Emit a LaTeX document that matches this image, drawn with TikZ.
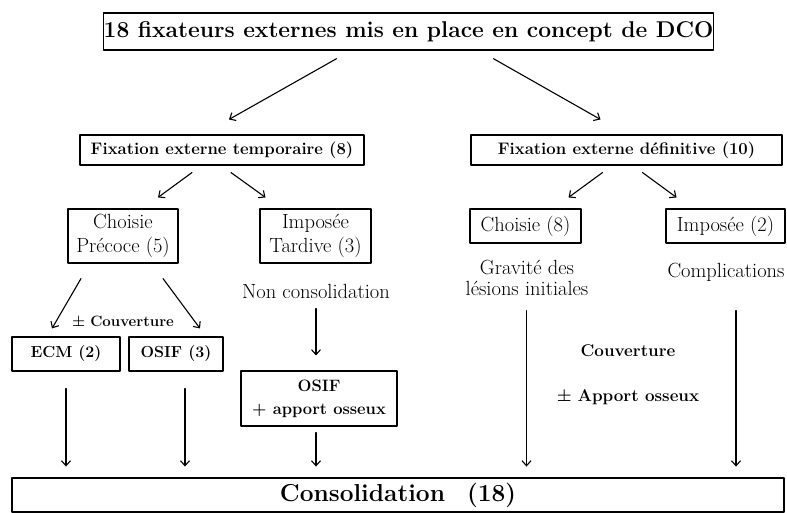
\documentclass[tikz,border=0pt]{standalone}
\usepackage{tikz}
\usetikzlibrary{arrows.meta,calc,positioning}
\tikzset{
  every picture/.append style={line cap=round,line join=round},
  dco box/.style={draw,line width=1.1pt,inner sep=0pt,align=center},
  dco text/.style={inner sep=0pt,align=center},
  dco arrow/.style={line width=1.1pt,-{Straight Barb[length=5pt,width=9pt]}},
  dco big/.style={font=\fontsize{22.8}{26}\selectfont\bfseries},
  dco head/.style={font=\fontsize{16.7}{19}\selectfont\bfseries},
  dco plain/.style={font=\fontsize{20.5}{24}\selectfont},
  dco bold/.style={font=\fontsize{17}{23}\selectfont\bfseries},
  dco small/.style={font=\fontsize{15}{18}\selectfont\bfseries}
}
\begin{document}
\begin{tikzpicture}[x=1pt,y=-1pt]
  \useasboundingbox (0,0) rectangle (787,513);
  % top level
  \node[dco box,dco big,line width=1.4pt,minimum width=609pt,minimum height=37pt] (title) at (408.5,31.5) {18 fixateurs externes mis en place en concept de DCO};
  \node[dco box,dco head,minimum width=284pt,minimum height=30pt] (temp) at (222,150) {Fixation externe temporaire (8)};
  \node[dco box,dco head,minimum width=311pt,minimum height=30pt] (defin) at (626.5,150) {Fixation externe définitive (10)};
  % second level
  \node[dco box,dco plain,minimum width=110pt,minimum height=54pt] (choisieP) at (123,236) {Choisie\\Précoce (5)};
  \node[dco box,dco plain,minimum width=111pt,minimum height=54pt] (imposT) at (315.5,236) {Imposée\\Tardive (3)};
  \node[dco text,dco plain] (nonc) at (316,291) {Non consolidation};
  \node[dco box,dco plain,minimum width=111pt,minimum height=34pt] (choisie8) at (525.5,226) {Choisie (8)};
  \node[dco box,dco plain,minimum width=119pt,minimum height=34pt] (impose2) at (725.5,226) {Imposée (2)};
  \node[dco text,font=\fontsize{20.5}{21.5}\selectfont] (gravite) at (527,278) {Gravité des\\lésions initiales};
  \node[dco text,dco plain] (complic) at (726,272) {Complications};
  % third level
  \node[dco text,dco small] (couvA) at (123,321) {±\hspace{5pt}Couverture};
  \node[dco box,font=\fontsize{16}{18}\selectfont\bfseries,minimum width=108pt,minimum height=34pt] (ecm) at (66,354) {ECM (2)};
  \node[dco box,font=\fontsize{16}{18}\selectfont\bfseries,minimum width=94pt,minimum height=34pt] (osif3) at (176,354) {OSIF (3)};
  \node[dco box,font=\fontsize{16.5}{23}\selectfont\bfseries,minimum width=156pt,minimum height=55pt] (osifA) at (319,398.5) {OSIF\\+ apport osseux};
  \node[dco text,dco bold] (couvB) at (628,351) {Couverture};
  \node[dco text,dco bold] (apport) at (628,397) {±\hspace{6pt}Apport osseux};
  \node[dco box,font=\fontsize{24.5}{28}\selectfont\bfseries,minimum width=772pt,minimum height=34pt] (conso) at (398,495) {Consolidation\hspace{22pt}(18)};
  % arrows
  \draw[dco arrow] ($(title.south)+(-72,8)$) -- ($(temp.north)+(7,-15)$);
  \draw[dco arrow] ($(title.south)+(85,8)$) -- ($(defin.north)+(-26,-15)$);
  \draw[dco arrow] ($(temp.south)+(-30,7)$) -- ($(choisieP.north)+(35,-11)$);
  \draw[dco arrow] ($(temp.south)+(9,7)$) -- ($(imposT.north)+(-50,-11)$);
  \draw[dco arrow] ($(defin.south)+(-24,7)$) -- ($(choisie8.north)+(43,-11)$);
  \draw[dco arrow] ($(defin.south)+(16,7)$) -- ($(impose2.north)+(-49,-11)$);
  \draw[dco arrow] ($(choisieP.south)+(-42,15)$) -- ($(ecm.north)+(-14,-8)$);
  \draw[dco arrow] ($(choisieP.south)+(40,15)$) -- ($(osif3.north)+(24,-8)$);
  \draw[dco arrow] ($(imposT.south)+(0.5,45)$) -- ($(osifA.north)+(-3,-15)$);
  \draw[dco arrow] ($(ecm.south)+(0,17)$) -- ($(ecm.south)+(0,95)$);
  \draw[dco arrow] ($(osif3.south)+(9,17)$) -- ($(osif3.south)+(9,95)$);
  \draw[dco arrow] ($(osifA.south)+(-3,6)$) -- ($(osifA.south)+(-3,40)$);
  \draw[dco arrow] ($(choisie8.south)+(1,67)$) -- ($(choisie8.south)+(1,223)$);
  \draw[dco arrow] ($(impose2.south)+(10.5,67)$) -- ($(impose2.south)+(10.5,223)$);
\end{tikzpicture}
\end{document}
